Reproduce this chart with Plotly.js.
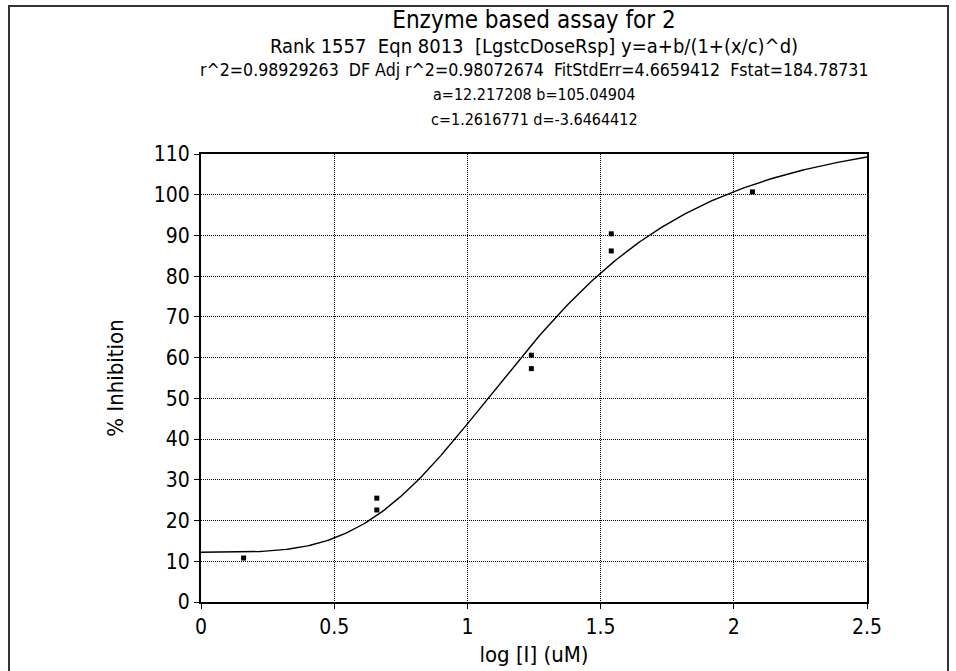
<!DOCTYPE html>
<html>
<head>
<meta charset="utf-8">
<script src="https://cdn.plot.ly/plotly-3.0.1.min.js"></script>
<style>
  html, body { margin: 0; padding: 0; background: #ffffff; }
  #chart { width: 956px; height: 671px; }
</style>
</head>
<body>
<div id="chart"></div>
<script>
// Measured points: log dose (uM) and % inhibition (replicates share a dose)
const logDose    = [0.16, 0.66, 0.66, 1.24, 1.24, 1.54, 1.54, 2.07];
const inhibition = [10.8, 25.5, 22.6, 60.6, 57.3, 90.4, 86.2, 100.7];

// Logistic dose-response fit y = a + b/(1+(x/c)^d), parameters as reported
const fitA = 12.217208;
const fitB = 105.04904;
const fitC = 1.2616771;
const fitD = -3.6464412;

// Fit statistics as reported
const rSquared    = '0.98929263';
const adjRSquared = '0.98072674';
const fitStdErr   = '4.6659412';
const fStat       = '184.78731';

// Axis ticks
const xTickVals = [0, 0.5, 1, 1.5, 2, 2.5];
const xTickText = ['0', '0.5', '1', '1.5', '2', '2.5'];
const yTickVals = [0, 10, 20, 30, 40, 50, 60, 70, 80, 90, 100, 110];
const yTickText = ['0', '10', '20', '30', '40', '50', '60', '70', '80', '90', '100', '110'];

// Fitted curve evaluated across the axis range from the reported parameters
const curveX = [];
const curveY = [];
for (let i = 0; i <= 250; i++) {
  const x = i / 100;
  curveX.push(x);
  curveY.push(fitA + fitB / (1 + Math.pow(x / fitC, fitD)));
}

const FONT = '"Liberation Sans Narrow", "DejaVu Sans Condensed", "Arial Narrow", sans-serif';
const NB = '\u00A0';

const W = 956, H = 671;
const M = { l: 201, r: 89, t: 154, b: 69 };
const plotH = H - M.t - M.b;
const plotW = W - M.l - M.r;
// pixel row -> paper y, pixel column -> paper x
const py = (p) => (H - M.b - p) / plotH;
const px = (p) => (p - M.l) / plotW;

const traces = [
  {
    x: curveX, y: curveY,
    type: 'scatter', mode: 'lines',
    line: { color: '#000000', width: 1.4 },
    hoverinfo: 'skip'
  },
  {
    x: logDose, y: inhibition,
    type: 'scatter', mode: 'markers',
    marker: { symbol: 'square', size: 5, color: '#000000' }
  }
];

const axisCommon = {
  showline: true, linecolor: '#000000', linewidth: 2, mirror: true,
  ticks: 'outside', ticklen: 5, tickwidth: 1, tickcolor: '#000000',
  showgrid: true, gridcolor: '#000000', gridwidth: 1, griddash: '1px,1px',
  zeroline: false, fixedrange: true,
  tickfont: { family: FONT, size: 21, color: '#000000' }
};

const subLines = [
  { text: 'Rank 1557' + NB + NB + 'Eqn 8013' + NB + NB + '[LgstcDoseRsp] y=a+b/(1+(x/c)^d)', y: 46, size: 20 },
  { text: 'r^2=' + rSquared + NB + NB + 'DF Adj r^2=' + adjRSquared + NB + NB + 'FitStdErr=' + fitStdErr + NB + NB + 'Fstat=' + fStat, y: 70, size: 17.6 },
  { text: 'a=' + fitA.toFixed(6) + ' b=' + fitB.toFixed(5), y: 95, size: 16 },
  { text: 'c=' + fitC.toFixed(7) + ' d=' + fitD.toFixed(7), y: 119, size: 16 }
];

const layout = {
  width: W, height: H,
  margin: M,
  paper_bgcolor: '#ffffff', plot_bgcolor: '#ffffff',
  showlegend: false,
  font: { family: FONT, color: '#000000' },
  title: {
    text: 'Enzyme based assay for 2',
    font: { family: FONT, size: 24, color: '#000000' },
    xref: 'paper', x: 0.5, xanchor: 'center',
    yref: 'container', y: 1 - 20 / H, yanchor: 'middle'
  },
  xaxis: Object.assign({}, axisCommon, {
    range: [0, 2.5],
    tickmode: 'array', tickvals: xTickVals, ticktext: xTickText,
    title: { text: 'log [I] (uM)', font: { family: FONT, size: 22, color: '#000000' }, standoff: 8 }
  }),
  yaxis: Object.assign({}, axisCommon, {
    range: [0, 110],
    tickmode: 'array', tickvals: yTickVals, ticktext: yTickText,
    title: { text: '% Inhibition', font: { family: FONT, size: 22, color: '#000000' }, standoff: 24 }
  }),
  annotations: subLines.map(l => ({
    text: l.text, showarrow: false,
    xref: 'paper', x: 0.5, xanchor: 'center',
    yref: 'paper', y: py(l.y), yanchor: 'middle',
    font: { family: FONT, size: l.size, color: '#000000' }
  })),
  shapes: [
    {
      type: 'rect', xref: 'paper', yref: 'paper',
      x0: px(9), x1: px(948), y0: py(680), y1: py(6),
      line: { color: '#333333', width: 2 }, fillcolor: 'rgba(0,0,0,0)', layer: 'below'
    }
  ]
};

Plotly.newPlot('chart', traces, layout, { displayModeBar: false, staticPlot: true });
</script>
</body>
</html>
